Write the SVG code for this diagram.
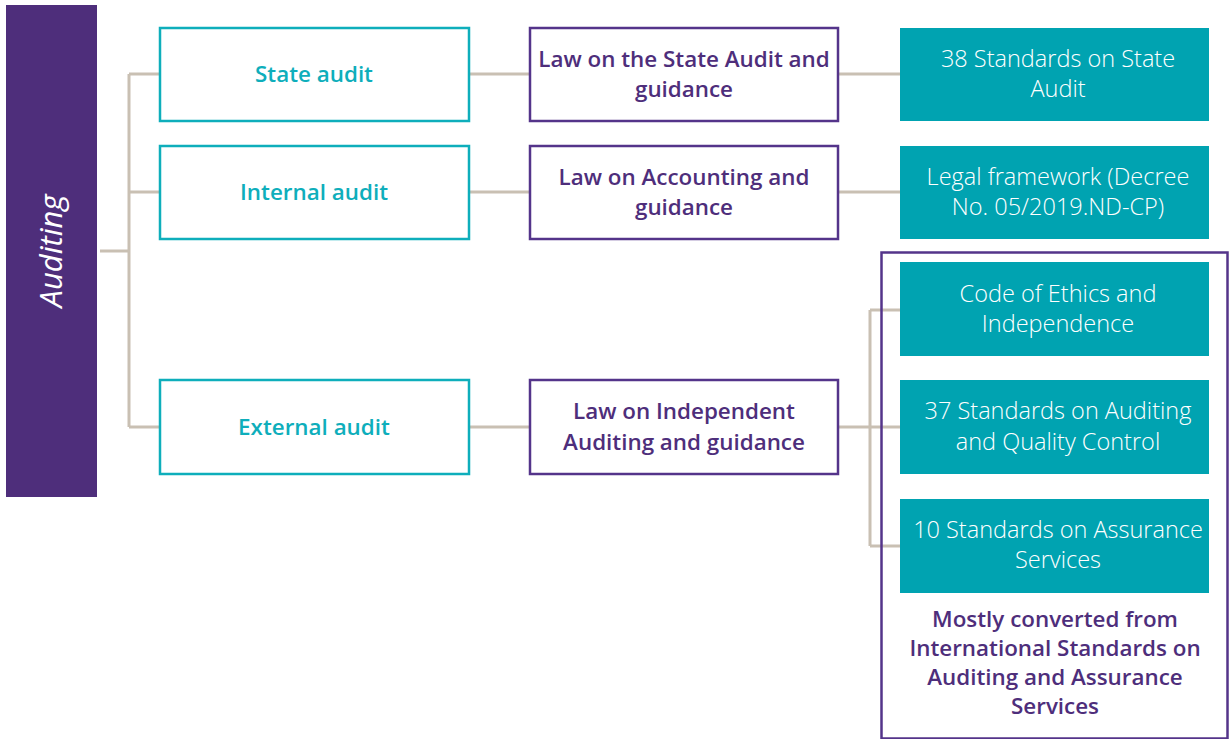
<svg xmlns="http://www.w3.org/2000/svg" width="1229" height="739" viewBox="0 0 1229 739">
<style>
.c{fill:none;stroke:#c9c0b3;stroke-width:3}
.t1{fill:#fff;stroke:#0eaebb;stroke-width:2.5}
.t2{fill:#fff;stroke:#54348a;stroke-width:2.5}
.t3{fill:#00a3b1}
.l1{font-family:"Open Sans","Liberation Sans",sans-serif;font-size:22.4px;font-weight:600;fill:#0eaebb;text-anchor:middle}
.l2{font-family:"Open Sans","Liberation Sans",sans-serif;font-size:22.4px;font-weight:600;fill:#4e2e7b;text-anchor:middle}
.l3{font-family:"Open Sans","Liberation Sans",sans-serif;font-size:23.5px;font-weight:300;fill:#fff;text-anchor:middle}
.l4{font-family:"Open Sans","Liberation Sans",sans-serif;font-size:22.4px;font-weight:600;fill:#4e2e7b;text-anchor:middle}
</style>
<rect width="1229" height="739" fill="#fff"/>
<g id="connectors">
<path class="c" d="M100 251H129M129 74V427M129 74H160M129 192H160M129 427H160"/>
<path class="c" d="M469 74H530M469 192H530M469 427H530"/>
<path class="c" d="M838 74H900M838 192H900"/>
<path class="c" d="M838 427H870M870 310V546M870 310H900M870 427H900M870 546H900"/>
</g>
<g id="auditing">
<rect x="6" y="5" width="91" height="492" fill="#4e2e7b"/>
<text transform="translate(62 251) rotate(-90)" font-family="'Open Sans','Liberation Sans',sans-serif" font-size="31" font-style="italic" fill="#fff" text-anchor="middle">Auditing</text>
</g>
<g id="state-audit"><rect class="t1" x="160" y="28" width="309" height="93"/><text class="l1" x="314" y="82">State audit</text></g>
<g id="internal-audit"><rect class="t1" x="160" y="146" width="309" height="93"/><text class="l1" x="314" y="200">Internal audit</text></g>
<g id="external-audit"><rect class="t1" x="160" y="380" width="309" height="94"/><text class="l1" x="314" y="435">External audit</text></g>
<g id="law-state"><rect class="t2" x="530" y="28" width="308" height="93"/><text class="l2" x="684" y="67">Law on the State Audit and</text><text class="l2" x="684" y="97">guidance</text></g>
<g id="law-accounting"><rect class="t2" x="530" y="146" width="308" height="93"/><text class="l2" x="684" y="185">Law on Accounting and</text><text class="l2" x="684" y="215">guidance</text></g>
<g id="law-independent"><rect class="t2" x="530" y="380" width="308" height="94"/><text class="l2" x="684" y="419">Law on Independent</text><text class="l2" x="684" y="450">Auditing and guidance</text></g>
<g id="group-box"><rect x="881.5" y="252.5" width="346" height="486" fill="none" stroke="#54348a" stroke-width="2.5"/>
<text class="l4" x="1055" y="627">Mostly converted from</text>
<text class="l4" x="1055" y="656">International Standards on</text>
<text class="l4" x="1055" y="685">Auditing and Assurance</text>
<text class="l4" x="1055" y="714">Services</text></g>
<g id="std-state"><rect class="t3" x="900" y="28" width="309" height="93"/><text class="l3" x="1058" y="67">38 Standards on State</text><text class="l3" x="1058" y="97">Audit</text></g>
<g id="legal-framework"><rect class="t3" x="900" y="146" width="309" height="93"/><text class="l3" x="1058" y="185">Legal framework (Decree</text><text class="l3" x="1058" y="215">No. 05/2019.ND-CP)</text></g>
<g id="code-ethics"><rect class="t3" x="900" y="262" width="309" height="94"/><text class="l3" x="1058" y="302">Code of Ethics and</text><text class="l3" x="1058" y="332">Independence</text></g>
<g id="std-auditing"><rect class="t3" x="900" y="380" width="309" height="94"/><text class="l3" x="1058" y="419">37 Standards on Auditing</text><text class="l3" x="1058" y="450">and Quality Control</text></g>
<g id="std-assurance"><rect class="t3" x="900" y="499" width="309" height="94"/><text class="l3" x="1058" y="538">10 Standards on Assurance</text><text class="l3" x="1058" y="568">Services</text></g>
</svg>
